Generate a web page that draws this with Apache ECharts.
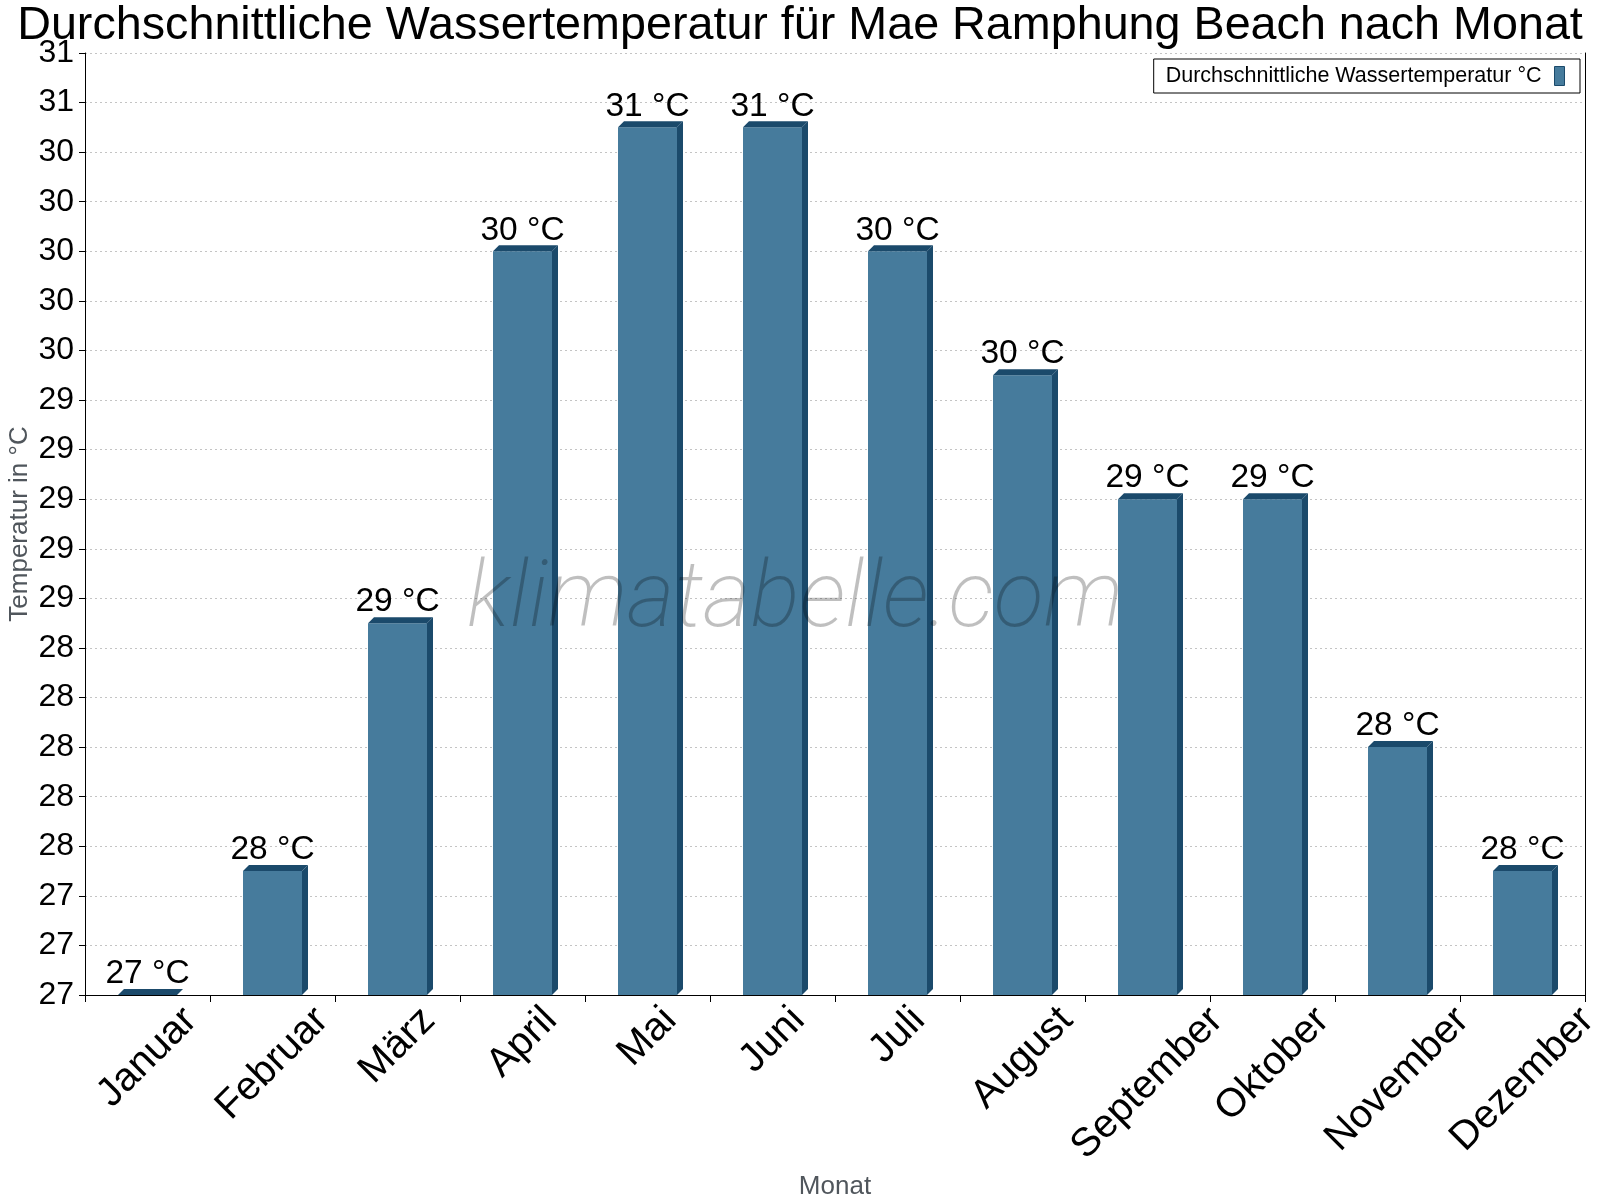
<!DOCTYPE html>
<html><head><meta charset="utf-8">
<script src="https://cdn.jsdelivr.net/npm/echarts@6/dist/echarts.min.js"></script>
<style>html,body{margin:0;padding:0;background:#fff}#c{width:1600px;height:1200px}</style>
</head><body><div id="c"></div>
<script>
// ---- data ----
const months = ['Januar','Februar','März','April','Mai','Juni','Juli','August','September','Oktober','November','Dezember'];
const waterTemp = [27.0, 27.5, 28.5, 30.0, 30.5, 30.5, 30.0, 29.5, 29.0, 29.0, 28.0, 27.5];
const yMin = 27, yMax = 30.8, yStep = 0.2;
const seriesName = 'Durchschnittliche Wassertemperatur °C';
const titleText = 'Durchschnittliche Wassertemperatur für Mae Ramphung Beach nach Monat';
const yName = 'Temperatur in °C';
const xName = 'Monat';
const watermark = 'klimatabelle.com';

// ---- style ----
const FONT = '"Liberation Sans", Arial, sans-serif';
const FRONT = '#467b9c';
const DARK = '#1b4a6b';
const XLAB_SIZE = 40;

const mctx = document.createElement('canvas').getContext('2d');
mctx.font = XLAB_SIZE + 'px "Liberation Sans", Arial, sans-serif';
function textW(s){ return mctx.measureText(s).width; }

const chart = echarts.init(document.getElementById('c'), null, {renderer:'canvas'});
chart.setOption({
  backgroundColor: '#fff',
  animation: false,
  title: {
    text: titleText, left: 'center', top: -2,
    textStyle: {fontSize: 46.7, fontWeight: 'normal', color: '#000', fontFamily: FONT}
  },
  legend: {
    data: [seriesName], right: 20, top: 59, align: 'right',
    icon: 'rect', itemWidth: 10, itemHeight: 19,
    padding: [6, 15, 6, 12],
    borderColor: '#000', borderWidth: 1,
    itemStyle: {color: FRONT, borderColor: DARK, borderWidth: 1},
    textStyle: {fontSize: 21.5, color: '#000', fontFamily: FONT, padding: [0, 8, 0, 0]}
  },
  grid: {left: 85, right: 15, top: 53, bottom: 205, containLabel: false, outerBoundsMode: 'none'},
  xAxis: {
    type: 'category', data: months,
    name: xName, nameLocation: 'middle', nameGap: 179, nameMoveOverlap: false,
    nameTextStyle: {fontSize: 26, color: '#50565c', fontFamily: FONT},
    axisLine: {lineStyle: {color: '#000', width: 1}},
    axisTick: {show: true, length: 7, lineStyle: {color: '#000'}},
    axisLabel: {show: false},
    splitLine: {show: false}
  },
  yAxis: [{
    type: 'value', min: yMin, max: yMax, interval: yStep,
    name: yName, nameLocation: 'middle', nameGap: 52, nameMoveOverlap: false,
    nameTextStyle: {fontSize: 26, color: '#50565c', fontFamily: FONT},
    axisLine: {show: true, lineStyle: {color: '#000', width: 1}},
    axisTick: {show: true, length: 6, lineStyle: {color: '#000'}},
    axisLabel: {fontSize: 32, color: '#000', fontFamily: FONT, margin: 11,
      formatter: v => String(Math.round(v))},
    splitLine: {show: true, lineStyle: {color: '#c4c4c4', type: [2, 3], width: 1}}
  }, {
    type: 'value', min: yMin, max: yMax, interval: yStep, position: 'right',
    axisLine: {show: true, lineStyle: {color: '#000', width: 1}},
    axisTick: {show: false}, axisLabel: {show: false}, splitLine: {show: false}
  }],
  graphic: [{
    type: 'text', x: 795, y: 603, z: 100, silent: true,
    style: {text: watermark, fontSize: 92, fontStyle: 'italic', fontWeight: 200,
      fontFamily: 'Roboto, "Liberation Sans", sans-serif', fill: 'rgba(0,0,0,0.25)',
      align: 'center', verticalAlign: 'middle'}
  }],
  series: [{
    name: seriesName, type: 'custom', itemStyle: {color: FRONT},
    data: waterTemp.map((v, i) => [i, v]),
    encode: {x: 0, y: 1},
    renderItem: function(params, api){
      const i = api.value(0), v = api.value(1);
      const top = api.coord([i, v]);
      const base = api.coord([i, yMin]);
      const band = api.size([1, 0])[0];
      const w = band * 0.472, d = 6;
      const x0 = top[0] - w/2, x1 = top[0] + w/2;
      return {type: 'group', children: [
        {type: 'rect', shape: {x: x0, y: top[1], width: w, height: base[1] - top[1]}, style: {fill: FRONT}},
        {type: 'polygon', shape: {points: [[x1, top[1]], [x1 + d, top[1] - d], [x1 + d, base[1] - d], [x1, base[1]]]}, style: {fill: DARK}},
        {type: 'polygon', shape: {points: [[x0, top[1]], [x0 + d, top[1] - d], [x1 + d, top[1] - d], [x1, top[1]]]}, style: {fill: DARK}},
        {type: 'text', x: top[0], y: top[1] - d + 2, style: {text: Math.round(v) + ' °C', fontSize: 33.5, fontFamily: FONT, fill: '#000', align: 'center', verticalAlign: 'bottom'}}
      ]};
    }
  }, {
    name: 'xlabels', type: 'custom', silent: true,
    data: months.map((m, i) => [i, yMin]),
    encode: {x: 0, y: 1},
    renderItem: function(params, api){
      const i = api.value(0);
      const p = api.coord([i, yMin]);
      const name = months[i];
      const L = textW(name);
      const cy = p[1] + 5 + 0.354 * (L + XLAB_SIZE);
      return {type: 'text', x: p[0], y: cy, rotation: Math.PI / 4,
        style: {text: name, fontSize: XLAB_SIZE, fontFamily: FONT, fill: '#000', align: 'center', verticalAlign: 'middle'}};
    }
  }]
});
</script>
</body></html>
